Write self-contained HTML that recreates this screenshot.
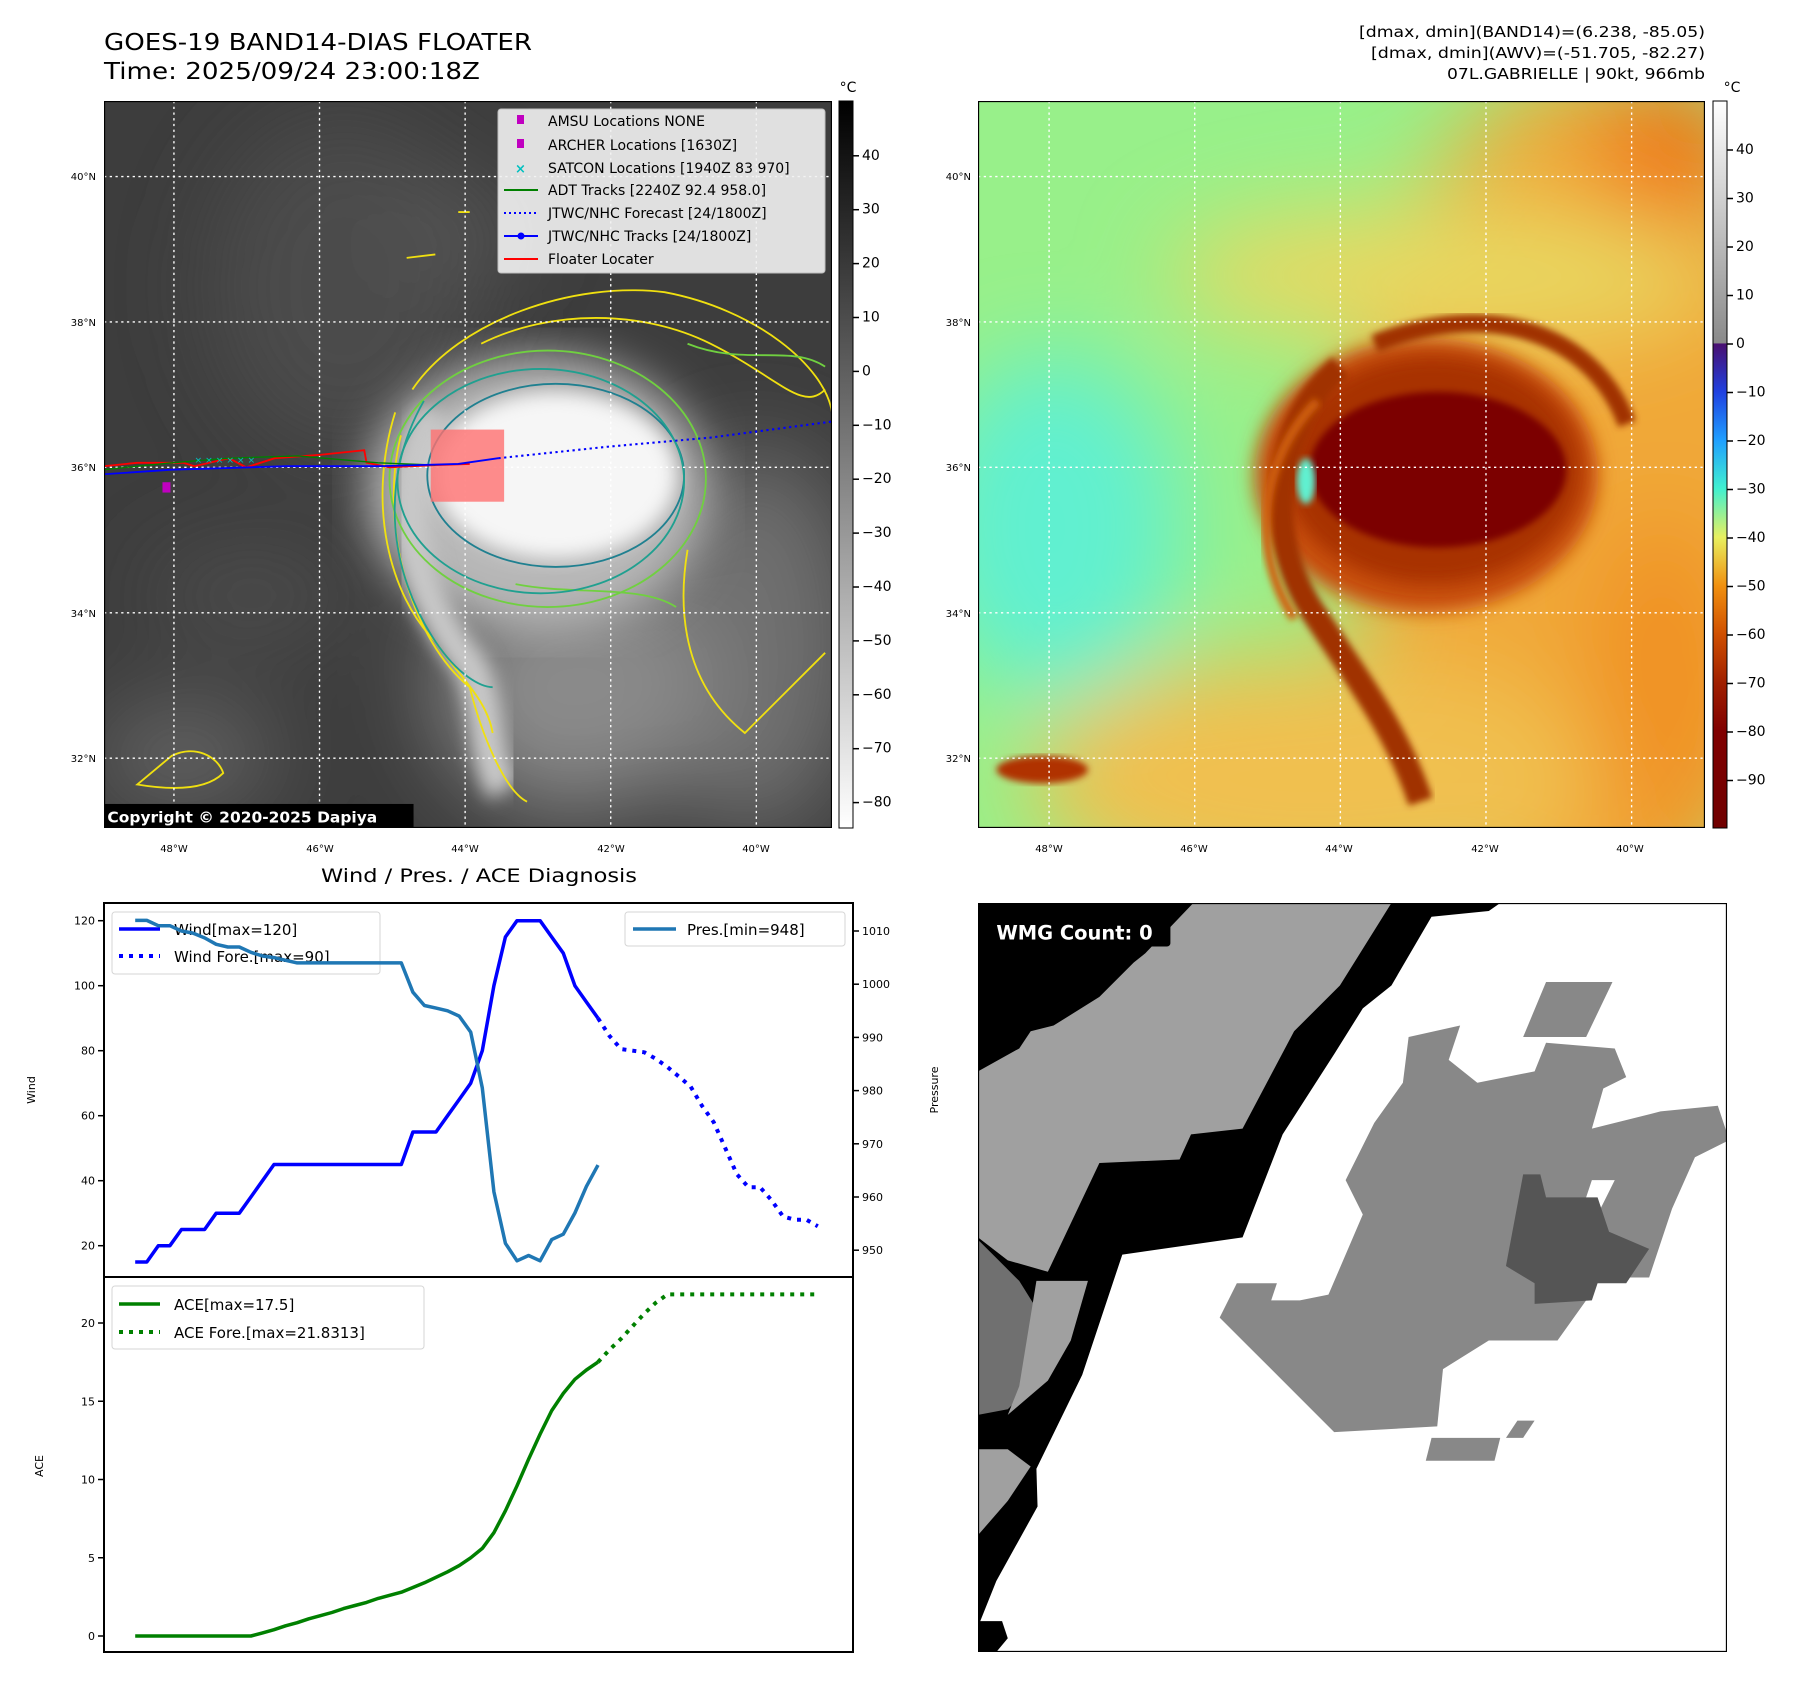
<!DOCTYPE html>
<html><head><meta charset="utf-8"><style>
html,body{margin:0;padding:0;background:#fff;}
svg text{font-family:"DejaVu Sans","Liberation Sans",sans-serif;}
</style></head><body>
<svg id="fig" xmlns="http://www.w3.org/2000/svg" width="1797" height="1690" viewBox="0 0 1797 1690">
<defs>
<filter id="b3"><feGaussianBlur stdDeviation="3"/></filter>
<filter id="b8"><feGaussianBlur stdDeviation="8"/></filter>
<filter id="b20"><feGaussianBlur stdDeviation="20"/></filter>
<filter id="b40"><feGaussianBlur stdDeviation="40"/></filter>
<linearGradient id="cbGray" x1="0" y1="0" x2="0" y2="1"><stop offset="0" stop-color="#000"/><stop offset="1" stop-color="#fff"/></linearGradient>
<linearGradient id="cbCol" x1="0" y1="0" x2="0" y2="1">
<stop offset="0" stop-color="#ffffff"/><stop offset="0.333" stop-color="#8a8a8a"/>
<stop offset="0.334" stop-color="#4a0f70"/><stop offset="0.40" stop-color="#2040e0"/>
<stop offset="0.467" stop-color="#20a0ff"/><stop offset="0.533" stop-color="#40f0d0"/>
<stop offset="0.60" stop-color="#e8f060"/><stop offset="0.667" stop-color="#f09010"/>
<stop offset="0.733" stop-color="#d05000"/><stop offset="0.80" stop-color="#a02000"/>
<stop offset="0.867" stop-color="#800000"/><stop offset="1" stop-color="#700000"/></linearGradient>
</defs>

<text x="104" y="50" font-size="23" textLength="428" lengthAdjust="spacingAndGlyphs">GOES-19 BAND14-DIAS FLOATER</text>
<text x="104" y="79" font-size="23" textLength="376" lengthAdjust="spacingAndGlyphs">Time: 2025/09/24 23:00:18Z</text>
<g font-size="15.5" text-anchor="end">
<text x="1705" y="37" textLength="346" lengthAdjust="spacingAndGlyphs">[dmax, dmin](BAND14)=(6.238, -85.05)</text>
<text x="1705" y="58" textLength="334" lengthAdjust="spacingAndGlyphs">[dmax, dmin](AWV)=(-51.705, -82.27)</text>
<text x="1705" y="79" textLength="258" lengthAdjust="spacingAndGlyphs">07L.GABRIELLE | 90kt, 966mb</text>
</g>

<svg x="104" y="101" width="728" height="727" viewBox="91 88 635 635" preserveAspectRatio="none">
<rect x="91" y="88" width="635" height="635" fill="#3d3d3d"/>
<g filter="url(#b40)">
<ellipse cx="300" cy="250" rx="120" ry="150" fill="#4c4c4c"/>
<ellipse cx="660" cy="560" rx="90" ry="170" fill="#707070"/>
<ellipse cx="500" cy="600" rx="120" ry="110" fill="#8a8a8a"/>
<ellipse cx="160" cy="660" rx="80" ry="40" fill="#6a6a6a"/>
<ellipse cx="400" cy="200" rx="60" ry="30" fill="#5a5a5a"/>
<ellipse cx="220" cy="520" rx="90" ry="40" fill="#4e4e4e"/>
</g>
<ellipse cx="470" cy="430" rx="150" ry="120" fill="#b8b8b8" filter="url(#b20)"/>
<path d="M380 360 C340 430 360 520 410 580 C430 620 420 660 440 690" stroke="#c8c8c8" stroke-width="30" fill="none" filter="url(#b8)"/>
<ellipse cx="485" cy="415" rx="105" ry="72" fill="#f6f6f6" filter="url(#b8)"/>
<g fill="none" stroke-width="1.6">
<path d="M360 340 C400 280 500 245 580 255 C660 270 720 320 726 360 M350 380 C330 460 360 560 410 600 C420 640 440 690 460 700 M600 480 C590 540 600 600 650 640 L720 570" stroke="#f0e010"/>
<path d="M345 360 C320 440 340 520 380 560 C400 590 425 610 430 640 M420 300 C480 270 560 270 620 300 C680 330 700 360 720 340" stroke="#f0e010"/>
<ellipse cx="478" cy="418" rx="138" ry="112" stroke="#70d040"/>
<path d="M600 300 C650 320 690 300 720 320 M450 510 C500 520 560 510 590 530" stroke="#70d040"/>
<path d="M370 350 C330 420 340 500 380 560 C400 590 420 600 430 600" stroke="#20a090"/>
<ellipse cx="485" cy="415" rx="112" ry="80" stroke="#208090"/>
<ellipse cx="472" cy="420" rx="125" ry="98" stroke="#20a090"/>
<path d="M150 660 C170 650 190 660 195 675 C180 690 150 690 120 685 Z" stroke="#f0e010"/>
<path d="M355 225 L380 222 M400 185 L410 185" stroke="#f0e010"/>
</g>
<g stroke="#fff" stroke-width="1.2" stroke-dasharray="2 3">
<line x1="152" y1="88" x2="152" y2="723"/><line x1="279" y1="88" x2="279" y2="723"/><line x1="406" y1="88" x2="406" y2="723"/><line x1="533" y1="88" x2="533" y2="723"/><line x1="660" y1="88" x2="660" y2="723"/>
<line x1="91" y1="154" x2="726" y2="154"/><line x1="91" y1="281" x2="726" y2="281"/><line x1="91" y1="408" x2="726" y2="408"/><line x1="91" y1="535" x2="726" y2="535"/><line x1="91" y1="662" x2="726" y2="662"/>
</g>
<rect x="376" y="375" width="64" height="63" fill="#ff7070" opacity="0.8"/>
<polyline points="91,407 120,404 160,404 170,407 200,400 215,408 240,400 280,397 318,393 320,404 340,408 380,406 410,405" fill="none" stroke="#ff0000" stroke-width="1.6"/>
<polyline points="91,410 150,404 200,400 260,398 330,404 380,406" fill="none" stroke="#008000" stroke-width="1.2"/>
<polyline points="91,414 150,410 250,407 330,407 400,405 435,400" fill="none" stroke="#0000ff" stroke-width="1.6"/>
<polyline points="435,400 530,390 620,382 726,368" fill="none" stroke="#0000ff" stroke-width="1.8" stroke-dasharray="2 3"/>
<rect x="142" y="421" width="7" height="9" fill="#c000c0"/>
<g fill="#00c0c0" font-size="8">
<text x="170" y="404">× × × × × ×</text></g>
<rect x="91" y="702" width="270" height="21" fill="#000"/>
<text x="94" y="718" font-size="13.5" font-weight="bold" fill="#fff">Copyright © 2020-2025 Dapiya</text>
<rect x="91" y="88" width="635" height="635" fill="none" stroke="#000" stroke-width="2"/>
</svg>
<g>
<rect x="498" y="109" width="327" height="164" rx="3" fill="#f2f2f2" opacity="0.9" stroke="#ccc"/>
<g font-size="14">
<rect x="517" y="115" width="7" height="9" fill="#c000c0"/><text x="548" y="126">AMSU Locations NONE</text>
<rect x="517" y="139" width="7" height="9" fill="#c000c0"/><text x="548" y="150">ARCHER Locations [1630Z]</text>
<text x="515" y="173" fill="#00c0c0" font-size="13" font-weight="bold">×</text><text x="548" y="173">SATCON Locations [1940Z 83 970]</text>
<line x1="504" y1="190" x2="538" y2="190" stroke="#008000" stroke-width="2"/><text x="548" y="195">ADT Tracks [2240Z 92.4 958.0]</text>
<line x1="504" y1="213" x2="538" y2="213" stroke="#0000ff" stroke-width="2" stroke-dasharray="2 3"/><text x="548" y="218">JTWC/NHC Forecast [24/1800Z]</text>
<line x1="504" y1="236" x2="538" y2="236" stroke="#0000ff" stroke-width="2"/><circle cx="521" cy="236" r="3.5" fill="#0000ff"/><text x="548" y="241">JTWC/NHC Tracks [24/1800Z]</text>
<line x1="504" y1="259" x2="538" y2="259" stroke="#ff0000" stroke-width="2"/><text x="548" y="264">Floater Locater</text>
</g></g>
<g font-size="10" text-anchor="end">
<text x="96" y="180">40°N</text><text x="96" y="326">38°N</text><text x="96" y="471">36°N</text><text x="96" y="617">34°N</text><text x="96" y="762">32°N</text></g>
<g font-size="10" text-anchor="middle">
<text x="174" y="852">48°W</text><text x="320" y="852">46°W</text><text x="465" y="852">44°W</text><text x="611" y="852">42°W</text><text x="756" y="852">40°W</text></g>
<rect x="839" y="101" width="14" height="727" fill="url(#cbGray)" stroke="#000" stroke-width="1"/>
<text x="848" y="92" font-size="14" text-anchor="middle">°C</text>
<g id="cb1ticks" font-size="14"></g>

<svg x="978" y="101" width="727" height="727" viewBox="854 88 634 635" preserveAspectRatio="none">
<rect x="854" y="88" width="634" height="635" fill="#98f08a"/>
<g filter="url(#b40)">
<ellipse cx="920" cy="460" rx="110" ry="150" fill="#60f0d0"/>
<ellipse cx="1390" cy="440" rx="210" ry="380" fill="#f0a838"/>
<ellipse cx="1150" cy="680" rx="250" ry="110" fill="#f0c050"/>
<ellipse cx="1260" cy="240" rx="240" ry="60" fill="#e8d860"/>
<ellipse cx="1460" cy="130" rx="70" ry="70" fill="#f07818"/>
<ellipse cx="1450" cy="600" rx="60" ry="150" fill="#f09020"/>
</g>
<ellipse cx="1245" cy="415" rx="150" ry="120" fill="#c85010" filter="url(#b8)"/>
<ellipse cx="1250" cy="410" rx="130" ry="100" fill="#a83000" filter="url(#b8)"/>
<path d="M1170 320 C1110 370 1100 470 1150 540 C1190 600 1220 640 1240 700" stroke="#a03000" stroke-width="22" fill="none" filter="url(#b3)"/>
<path d="M1150 350 C1100 400 1090 480 1130 540" stroke="#d06010" stroke-width="8" fill="none" filter="url(#b3)"/>
<path d="M1200 300 C1300 260 1390 290 1420 370" stroke="#a03000" stroke-width="16" fill="none" filter="url(#b3)"/>
<ellipse cx="1255" cy="410" rx="112" ry="68" fill="#7c0000" filter="url(#b3)"/>
<ellipse cx="1140" cy="420" rx="8" ry="20" fill="#60f0d0" filter="url(#b3)"/>
<ellipse cx="910" cy="672" rx="40" ry="12" fill="#b03000" filter="url(#b3)"/>
<g stroke="#fff" stroke-width="1.2" stroke-dasharray="2 3">
<line x1="916" y1="88" x2="916" y2="723"/><line x1="1043" y1="88" x2="1043" y2="723"/><line x1="1170" y1="88" x2="1170" y2="723"/><line x1="1297" y1="88" x2="1297" y2="723"/><line x1="1424" y1="88" x2="1424" y2="723"/>
<line x1="854" y1="154" x2="1488" y2="154"/><line x1="854" y1="281" x2="1488" y2="281"/><line x1="854" y1="408" x2="1488" y2="408"/><line x1="854" y1="535" x2="1488" y2="535"/><line x1="854" y1="662" x2="1488" y2="662"/>
</g>
<rect x="854" y="88" width="634" height="635" fill="none" stroke="#000" stroke-width="2"/>
</svg>
<g font-size="10" text-anchor="end">
<text x="971" y="180">40°N</text><text x="971" y="326">38°N</text><text x="971" y="471">36°N</text><text x="971" y="617">34°N</text><text x="971" y="762">32°N</text></g>
<g font-size="10" text-anchor="middle">
<text x="1049" y="852">48°W</text><text x="1194" y="852">46°W</text><text x="1339" y="852">44°W</text><text x="1485" y="852">42°W</text><text x="1630" y="852">40°W</text></g>
<rect x="1713" y="101" width="14" height="727" fill="url(#cbCol)" stroke="#000" stroke-width="1"/>
<text x="1732" y="92" font-size="14" text-anchor="middle">°C</text>
<g id="cb2ticks" font-size="14"></g>

<text x="479" y="882" font-size="19" text-anchor="middle" textLength="316" lengthAdjust="spacingAndGlyphs">Wind / Pres. / ACE Diagnosis</text>
<rect x="104" y="903" width="749" height="374" fill="#fff"/>
<rect x="104" y="1277" width="749" height="375" fill="#fff"/>
<g id="plots"></g>
<g>
<rect x="112" y="912" width="268" height="62" rx="3" fill="#fff" opacity="0.8" stroke="#ccc"/>
<line x1="119" y1="929" x2="160" y2="929" stroke="#0000ff" stroke-width="3.5"/><text x="174" y="935" font-size="15">Wind[max=120]</text>
<line x1="119" y1="956" x2="160" y2="956" stroke="#0000ff" stroke-width="4" stroke-dasharray="4 6"/><text x="174" y="962" font-size="15">Wind Fore.[max=90]</text>
</g>
<g>
<rect x="625" y="912" width="220" height="34" rx="3" fill="#fff" opacity="0.8" stroke="#ccc"/>
<line x1="633" y1="929" x2="676" y2="929" stroke="#1f77b4" stroke-width="3.5"/><text x="687" y="935" font-size="15">Pres.[min=948]</text>
</g>
<g>
<rect x="112" y="1286" width="312" height="63" rx="3" fill="#fff" opacity="0.8" stroke="#ccc"/>
<line x1="119" y1="1304" x2="160" y2="1304" stroke="#008000" stroke-width="3.5"/><text x="174" y="1310" font-size="15">ACE[max=17.5]</text>
<line x1="119" y1="1332" x2="160" y2="1332" stroke="#008000" stroke-width="4" stroke-dasharray="4 6"/><text x="174" y="1338" font-size="15">ACE Fore.[max=21.8313]</text>
</g>
<g id="fg"></g>
<text transform="translate(35,1090) rotate(-90)" font-size="11" text-anchor="middle">Wind</text>
<text transform="translate(938,1090) rotate(-90)" font-size="11" text-anchor="middle">Pressure</text>
<text transform="translate(43,1466) rotate(-90)" font-size="11" text-anchor="middle">ACE</text>
<rect x="104" y="903" width="749" height="374" fill="none" stroke="#000" stroke-width="2"/>
<rect x="104" y="1277" width="749" height="375" fill="none" stroke="#000" stroke-width="2"/>

<svg x="978" y="903" width="749" height="749" viewBox="854 788 654 654" preserveAspectRatio="none">
<rect x="854" y="788" width="654" height="654" fill="#fff"/>
<polygon fill="#000" points="854,788 1310,788 1300,795 1250,800 1215,860 1190,880 1165,920 1120,990 1085,1080 980,1095 945,1200 905,1282 906,1315 870,1380 854,1420"/>
<polygon fill="#a0a0a0" points="1042,788 1215,788 1170,860 1130,900 1085,985 1040,990 1030,1012 960,1015 915,1110 880,1100 854,1080 854,935 890,915 900,900 920,895 960,870 990,840 1000,832"/>
<polygon fill="#707070" points="854,1082 870,1098 890,1118 910,1150 905,1205 880,1230 854,1235"/>
<polygon fill="#a0a0a0" points="905,1118 950,1118 935,1170 915,1205 880,1235 890,1210"/>
<polygon fill="#a0a0a0" points="854,1265 880,1265 900,1280 880,1310 854,1340"/>
<polygon fill="#000" points="854,1415 875,1415 880,1430 870,1442 854,1442"/>
<polygon fill="#888" points="1230,905 1275,895 1265,925 1290,945 1340,935 1350,910 1410,915 1420,940 1400,950 1390,985 1450,970 1500,965 1510,995 1480,1010 1460,1055 1440,1115 1395,1115 1385,1135 1360,1170 1300,1170 1260,1195 1255,1245 1165,1250 1135,1220 1090,1175 1065,1150 1080,1120 1115,1120 1110,1135 1135,1135 1160,1130 1190,1060 1175,1030 1200,980 1225,945"/>
<polygon fill="#888" points="1350,857 1408,857 1385,905 1330,905"/>
<polygon fill="#888" points="1250,1255 1310,1255 1305,1275 1245,1275"/>
<polygon fill="#888" points="1325,1240 1340,1240 1330,1255 1315,1255"/>
<polygon fill="#fff" points="1390,1030 1410,1030 1395,1060 1380,1060"/>
<polygon fill="#555" points="1330,1025 1345,1025 1350,1045 1395,1045 1405,1075 1440,1090 1420,1120 1395,1120 1390,1135 1340,1138 1340,1120 1315,1105"/>
<rect x="862" y="796" width="160" height="30" rx="3" fill="#000"/>
<text x="870" y="820" font-size="17" font-weight="bold" fill="#fff">WMG Count: 0</text>
<rect x="854" y="788" width="654" height="654" fill="none" stroke="#000" stroke-width="2"/>
</svg>
</svg>
<script>
const windObs = [15,15,20,20,25,25,25,30,30,30,35,40,45,45,45,45,45,45,45,45,45,45,45,45,55,55,55,60,65,70,80,100,115,120,120,120,115,110,100,95,90];
const windFore = [90,84.5,80.5,80,79.5,77.5,75,72,69,63,58,50,42,38,38,34,29,28,28,26];
const presObs = [1012,1012,1011,1011,1010,1009.6,1008.7,1007.5,1007,1007,1006,1005.3,1005,1004.5,1004,1004,1004,1004,1004,1004,1004,1004,1004,1004,998.5,996,995.5,995,994,991,980.5,961,951.3,948,949,948,952,953,957,962,966];
const aceObs = [0,0,0,0,0,0,0,0,0,0,0,0.2,0.4,0.65,0.85,1.1,1.3,1.5,1.75,1.95,2.15,2.4,2.6,2.8,3.1,3.4,3.75,4.1,4.5,5.0,5.6,6.6,8.0,9.6,11.3,12.9,14.4,15.5,16.4,17.0,17.5];
const aceFore = [17.5,18.3,19.0,19.8,20.6,21.3,21.83,21.83,21.83,21.83,21.83,21.83,21.83,21.83,21.83,21.83,21.83,21.83,21.83,21.83];
const windTicks = [20,40,60,80,100,120];
const presTicks = [950,960,970,980,990,1000,1010];
const aceTicks = [0,5,10,15,20];
const cb1Ticks = [40,30,20,10,0,-10,-20,-30,-40,-50,-60,-70,-80];
const cb2Ticks = [40,30,20,10,0,-10,-20,-30,-40,-50,-60,-70,-80,-90];
const foreStart = windObs.length - 1;

const NS='http://www.w3.org/2000/svg';
const xS = i => 135.2 + i*11.57;
const yW = v => 920.7 + (120 - v)*3.25;
const yP = p => 931 + (1010 - p)*5.32;
const yA = a => 1636 - a*15.65;
const yC1 = v => 155.8 + (40 - v)*5.39;
const yC2 = v => 150 + (40 - v)*4.85;
function mk(tag, attrs, parent){const e=document.createElementNS(NS,tag);for(const k in attrs)e.setAttribute(k,attrs[k]);parent.appendChild(e);return e;}
const plots=document.getElementById('plots'), fg=document.getElementById('fg');
function line(vals, off, ys, color, dashed, parent, name){
  const pts = vals.map((v,i)=>xS(i+off).toFixed(1)+','+ys(v).toFixed(1)).join(' ');
  const a={points:pts,fill:'none',stroke:color,'stroke-width':dashed?4:3.5,'stroke-linejoin':'round'};
  if(dashed)a['stroke-dasharray']='4 6';
  const el=mk('polyline',a,parent);
  
  
}
line(windObs,0,yW,'#0000ff',false,plots,'wind-line');
line(windFore,foreStart,yW,'#0000ff',true,plots,'wind-forecast-line');
line(presObs,0,yP,'#1f77b4',false,fg,'pressure-line');
line(aceObs,0,yA,'#008000',false,plots,'ace-line');
line(aceFore,foreStart,yA,'#008000',true,plots,'ace-forecast-line');
function ticks(arr, ys, x, side, parent, name, fs, fmt){
  arr.forEach(v=>{
    const y=ys(v);
    const t=mk('line',{x1:x,y1:y,x2:x+(side<0?-6:6),y2:y,stroke:'#000','stroke-width':1.5},parent);
    
    
    const tx=mk('text',{x:x+(side<0?-9:9),y:y+4,'font-size':fs,'text-anchor':side<0?'end':'start'},parent);
    tx.textContent=fmt?fmt(v):String(v);
    
    
  });
}
ticks(windTicks,yW,104,-1,plots,'wind-axis',11);
ticks(presTicks,yP,853,1,plots,'pressure-axis',11);
ticks(aceTicks,yA,104,-1,plots,'ace-axis',11);
const neg=v=>v<0?'\u2212'+Math.abs(v):String(v);
ticks(cb1Ticks,yC1,853,1,document.getElementById('cb1ticks'),'colorbar-gray',14,neg);
ticks(cb2Ticks,yC2,1727,1,document.getElementById('cb2ticks'),'colorbar-color',14,neg);
</script>
</body></html>
